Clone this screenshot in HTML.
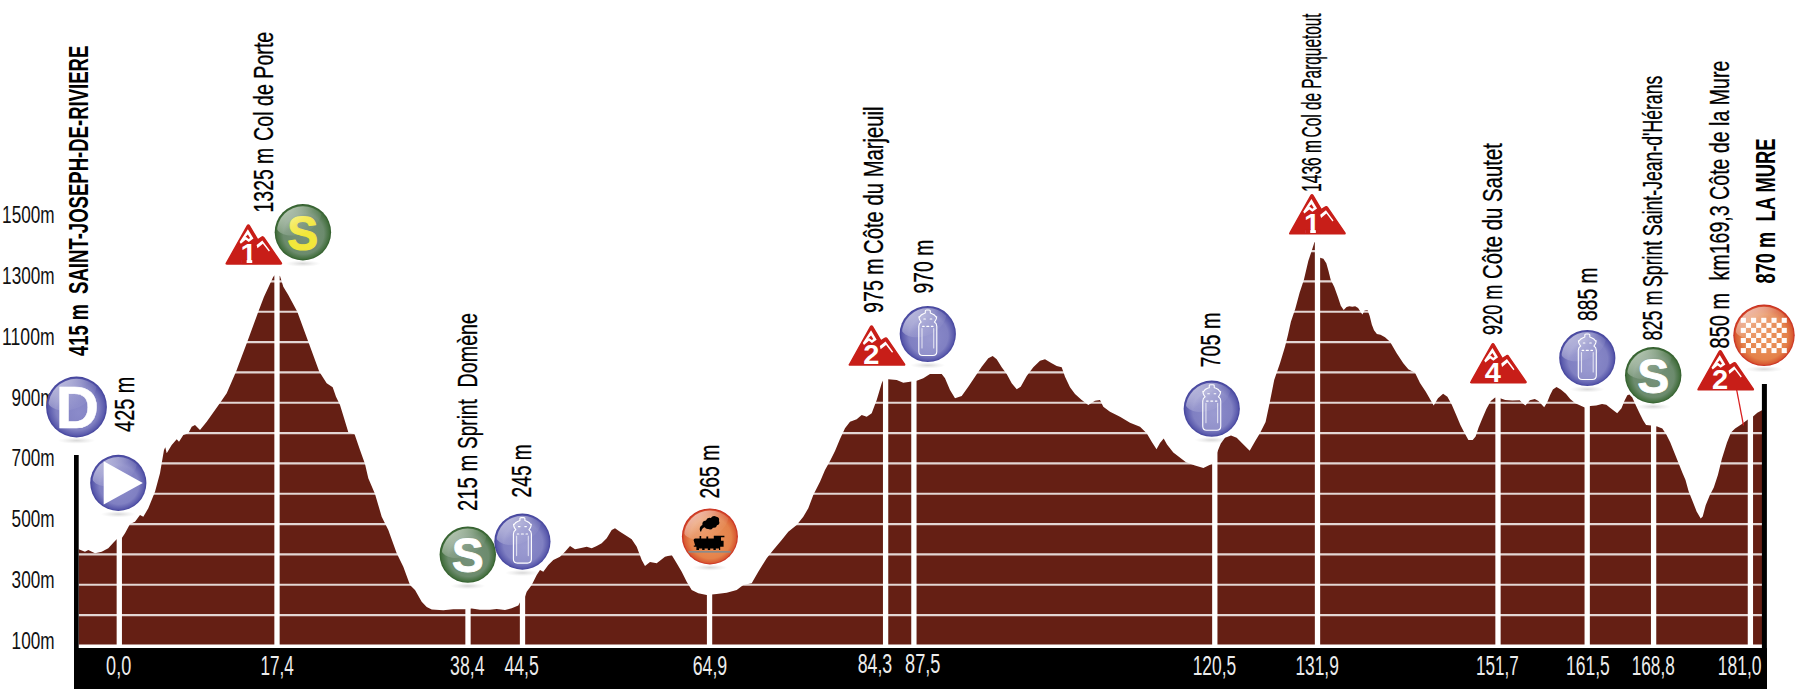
<!DOCTYPE html>
<html lang="fr"><head><meta charset="utf-8"><title>Profil - Saint-Joseph-de-Rivière / La Mure</title>
<style>html,body{margin:0;padding:0;background:#fff}svg{display:block}text{font-family:"Liberation Sans",Arial,sans-serif}</style>
</head><body>
<svg width="1800" height="692" viewBox="0 0 1800 692">
<defs>
<radialGradient id="gBlue" cx="0.5" cy="0.5" r="0.5" fx="0.54" fy="0.6"><stop offset="0" stop-color="#8B8BCA"/><stop offset="0.7" stop-color="#8080C2"/><stop offset="0.92" stop-color="#5A5AAC"/><stop offset="1" stop-color="#40409A"/></radialGradient>
<radialGradient id="gGreen" cx="0.5" cy="0.5" r="0.5" fx="0.54" fy="0.6"><stop offset="0" stop-color="#76917A"/><stop offset="0.72" stop-color="#6C8B6D"/><stop offset="0.93" stop-color="#457040"/><stop offset="1" stop-color="#2E5B28"/></radialGradient>
<radialGradient id="gOrange" cx="0.5" cy="0.5" r="0.5" fx="0.54" fy="0.6"><stop offset="0" stop-color="#EC945C"/><stop offset="0.74" stop-color="#E4824A"/><stop offset="0.93" stop-color="#D85A32"/><stop offset="1" stop-color="#C6241A"/></radialGradient>
<linearGradient id="gloss" x1="0" y1="0" x2="0.35" y2="1"><stop offset="0" stop-color="#fff" stop-opacity="0.8"/><stop offset="0.7" stop-color="#fff" stop-opacity="0.18"/><stop offset="1" stop-color="#fff" stop-opacity="0.05"/></linearGradient>
<radialGradient id="shadow" cx="0.5" cy="0.5" r="0.5"><stop offset="0" stop-color="#000" stop-opacity="0.15"/><stop offset="0.6" stop-color="#000" stop-opacity="0.05"/><stop offset="1" stop-color="#000" stop-opacity="0"/></radialGradient>
</defs>
<rect width="1800" height="692" fill="#fff"/>
<polygon fill="#651F14" points="78.7,549.3 85.0,551.7 88.3,550.0 95.0,553.3 101.7,551.7 108.3,548.3 113.3,542.7 116.7,539.3 121.7,538.3 125.0,533.3 130.0,524.0 135.0,521.7 140.0,515.0 143.3,516.7 148.3,508.3 155.0,491.7 160.0,473.3 161.7,463.3 164.0,450.0 165.3,447.3 166.7,453.3 171.7,445.0 176.7,439.3 179.0,441.7 183.3,435.0 188.3,433.3 191.7,426.7 195.0,425.0 200.0,430.0 206.7,421.7 219.3,404.0 226.7,393.3 236.0,371.7 247.3,341.7 258.3,311.7 264.0,296.7 273.3,276.7 275.0,275.0 280.0,276.0 283.3,286.7 288.3,295.0 297.3,311.7 308.3,341.7 319.3,371.7 326.7,383.3 332.7,387.3 336.0,396.7 340.0,405.0 344.0,418.0 348.4,432.4 354.6,434.2 360.0,450.0 365.0,464.0 368.3,478.3 375.0,494.0 381.7,516.7 388.3,530.0 396.7,553.3 403.3,566.7 410.0,585.0 415.0,590.0 421.7,601.7 426.7,607.0 431.7,609.5 443.3,610.2 453.3,609.3 465.0,609.2 471.7,608.4 480.0,609.7 490.0,609.7 496.7,609.0 505.0,610.0 511.7,608.2 518.3,605.6 520.7,601.0 525.0,596.7 526.7,591.7 531.7,585.0 536.7,575.0 540.0,570.0 543.3,571.7 548.3,565.0 553.3,560.0 560.0,556.7 565.0,551.7 570.0,546.0 575.0,549.3 580.0,548.3 586.7,546.7 591.7,548.3 596.7,546.0 601.7,543.3 606.7,538.3 611.7,530.0 615.0,528.3 620.0,531.7 626.7,536.0 631.7,539.3 636.7,546.7 641.7,560.0 645.0,566.0 650.0,562.0 656.7,563.3 665.0,556.7 671.7,555.0 676.7,563.3 681.7,571.7 686.7,581.7 691.7,590.0 698.3,593.3 706.7,595.0 716.7,594.0 726.7,592.7 736.7,590.0 743.3,585.0 751.7,583.3 758.3,571.7 766.7,558.3 773.3,550.0 781.7,540.0 788.3,531.7 796.7,525.0 803.3,516.7 808.3,508.3 813.3,495.0 820.0,481.7 825.0,470.0 830.0,461.0 835.0,451.0 840.0,439.0 845.0,428.3 850.0,421.7 856.7,419.3 861.7,415.0 866.7,416.7 871.7,413.3 876.7,400.0 881.7,383.3 883.3,380.0 888.3,379.3 896.7,380.0 903.3,382.7 910.0,381.7 916.7,380.7 923.3,378.3 930.0,374.0 941.7,374.0 945.0,378.3 950.0,390.0 955.0,398.3 961.7,396.0 968.3,386.7 975.0,376.7 981.7,366.7 988.3,358.3 992.7,356.0 996.7,359.3 1001.7,367.3 1006.7,374.0 1011.7,383.3 1016.7,389.3 1020.7,386.7 1026.7,376.0 1033.3,367.3 1040.0,360.7 1045.0,359.3 1051.7,363.3 1056.7,366.0 1061.7,367.3 1065.0,376.7 1070.0,387.3 1075.0,394.0 1081.7,400.0 1088.3,405.0 1095.0,400.7 1100.0,400.0 1103.3,406.7 1110.0,411.7 1120.0,416.7 1130.0,422.7 1140.0,426.7 1146.7,433.3 1151.7,441.7 1156.5,449.3 1160.0,443.0 1163.7,438.5 1167.0,444.5 1173.3,452.5 1186.0,462.3 1195.0,465.5 1203.4,468.1 1208.0,465.8 1212.0,463.8 1217.2,452.2 1220.8,443.6 1225.0,437.8 1231.0,435.6 1236.7,437.8 1243.9,445.0 1249.7,450.8 1255.4,440.7 1259.8,433.4 1265.6,421.9 1269.9,401.7 1274.2,380.0 1280.0,363.3 1285.0,346.7 1288.0,334.7 1290.9,321.7 1295.3,308.7 1299.6,292.8 1303.9,279.8 1308.3,261.0 1311.9,250.2 1314.5,241.9 1315.5,243.0 1320.1,257.8 1323.4,258.8 1326.3,263.2 1328.5,271.1 1330.7,279.8 1334.3,287.0 1337.9,297.1 1340.8,305.8 1343.7,310.1 1346.6,306.9 1349.4,306.2 1352.3,306.8 1355.2,306.2 1358.1,307.9 1360.3,311.6 1362.4,314.4 1364.6,310.4 1367.5,310.1 1369.7,315.9 1371.8,324.6 1374.0,330.3 1376.9,333.9 1380.5,334.7 1385.0,337.3 1390.0,341.7 1396.7,353.3 1403.3,363.3 1408.3,369.3 1415.0,372.7 1420.0,383.0 1425.8,391.7 1433.7,405.4 1438.0,398.2 1443.1,393.8 1447.4,396.7 1451.8,404.7 1456.1,414.8 1460.4,424.9 1464.8,433.6 1468.4,440.1 1472.7,440.1 1475.6,436.4 1478.5,427.8 1482.1,419.1 1486.4,409.0 1490.8,401.1 1495.1,397.4 1500.2,398.2 1505.2,400.0 1512.4,400.6 1519.7,400.3 1522.6,403.2 1525.4,405.4 1529.8,400.3 1534.8,398.9 1538.4,401.1 1544.2,407.3 1547.1,402.5 1550.0,395.3 1552.9,389.5 1556.5,387.0 1560.8,389.5 1565.9,393.8 1570.2,398.9 1575.3,403.2 1580.3,405.4 1584.7,407.6 1590.2,406.1 1596.2,405.4 1602.0,403.9 1606.3,404.7 1610.7,408.3 1617.2,413.3 1621.5,408.3 1624.4,401.1 1627.3,395.3 1629.4,394.6 1632.3,397.4 1635.9,405.4 1639.6,413.3 1643.2,420.6 1646.1,424.9 1651.1,425.6 1657.2,426.6 1662.3,428.4 1666.3,434.5 1670.3,442.6 1674.4,452.7 1678.4,462.8 1682.5,472.9 1685.5,480.0 1688.6,491.2 1692.6,501.3 1696.6,511.4 1700.7,518.5 1702.7,516.4 1705.7,505.3 1709.8,495.2 1713.8,487.5 1717.9,475.0 1721.9,458.8 1727.0,442.6 1731.0,432.5 1735.1,428.4 1741.2,424.4 1748.2,419.3 1753.3,416.3 1757.3,412.7 1762.0,410.2 1762,646.4 78.7,646.4"/>
<line x1="78" x2="1763" y1="615.1" y2="615.1" stroke="#fff" stroke-opacity="0.82" stroke-width="2.1"/>
<line x1="78" x2="1763" y1="584.7" y2="584.7" stroke="#fff" stroke-opacity="0.82" stroke-width="2.1"/>
<line x1="78" x2="1763" y1="554.4" y2="554.4" stroke="#fff" stroke-opacity="0.82" stroke-width="2.1"/>
<line x1="78" x2="1763" y1="524.1" y2="524.1" stroke="#fff" stroke-opacity="0.82" stroke-width="2.1"/>
<line x1="78" x2="1763" y1="493.8" y2="493.8" stroke="#fff" stroke-opacity="0.82" stroke-width="2.1"/>
<line x1="78" x2="1763" y1="463.4" y2="463.4" stroke="#fff" stroke-opacity="0.82" stroke-width="2.1"/>
<line x1="78" x2="1763" y1="433.1" y2="433.1" stroke="#fff" stroke-opacity="0.82" stroke-width="2.1"/>
<line x1="78" x2="1763" y1="402.8" y2="402.8" stroke="#fff" stroke-opacity="0.82" stroke-width="2.1"/>
<line x1="78" x2="1763" y1="372.4" y2="372.4" stroke="#fff" stroke-opacity="0.82" stroke-width="2.1"/>
<line x1="78" x2="1763" y1="342.1" y2="342.1" stroke="#fff" stroke-opacity="0.82" stroke-width="2.1"/>
<line x1="78" x2="1763" y1="311.8" y2="311.8" stroke="#fff" stroke-opacity="0.82" stroke-width="2.1"/>
<line x1="78" x2="1763" y1="281.4" y2="281.4" stroke="#fff" stroke-opacity="0.82" stroke-width="2.1"/>
<line x1="78" x2="1763" y1="251.1" y2="251.1" stroke="#fff" stroke-opacity="0.82" stroke-width="2.1"/>
<rect x="78" y="644.5" width="1686" height="3.6" fill="#fff"/>
<line x1="119.3" x2="119.3" y1="236" y2="648" stroke="#fff" stroke-width="5.3"/>
<line x1="277" x2="277" y1="236" y2="648" stroke="#fff" stroke-width="5.3"/>
<line x1="468" x2="468" y1="236" y2="648" stroke="#fff" stroke-width="5.3"/>
<line x1="522.5" x2="522.5" y1="236" y2="648" stroke="#fff" stroke-width="5.3"/>
<line x1="709.55" x2="709.55" y1="236" y2="648" stroke="#fff" stroke-width="5.3"/>
<line x1="885.6" x2="885.6" y1="236" y2="648" stroke="#fff" stroke-width="5.3"/>
<line x1="913.9" x2="913.9" y1="236" y2="648" stroke="#fff" stroke-width="5.3"/>
<line x1="1214.8" x2="1214.8" y1="236" y2="648" stroke="#fff" stroke-width="5.3"/>
<line x1="1317.5" x2="1317.5" y1="236" y2="648" stroke="#fff" stroke-width="5.3"/>
<line x1="1498" x2="1498" y1="236" y2="648" stroke="#fff" stroke-width="5.3"/>
<line x1="1587.2" x2="1587.2" y1="236" y2="648" stroke="#fff" stroke-width="5.3"/>
<line x1="1653.6" x2="1653.6" y1="236" y2="648" stroke="#fff" stroke-width="5.3"/>
<line x1="1750.4" x2="1750.4" y1="236" y2="648" stroke="#fff" stroke-width="5.3"/>
<rect x="74" y="455" width="4.7" height="194" fill="#000"/>
<rect x="1761.9" y="384" width="5" height="265" fill="#000"/>
<rect x="74" y="648" width="1693" height="41" fill="#000"/>
<text x="54.6" y="223.2" font-size="24.5" text-anchor="end" textLength="52.5" lengthAdjust="spacingAndGlyphs" fill="#111">1500m</text>
<text x="54.6" y="284.0" font-size="24.5" text-anchor="end" textLength="52.5" lengthAdjust="spacingAndGlyphs" fill="#111">1300m</text>
<text x="54.6" y="344.8" font-size="24.5" text-anchor="end" textLength="52.5" lengthAdjust="spacingAndGlyphs" fill="#111">1100m</text>
<text x="54.6" y="405.6" font-size="24.5" text-anchor="end" textLength="43" lengthAdjust="spacingAndGlyphs" fill="#111">900m</text>
<text x="54.6" y="466.4" font-size="24.5" text-anchor="end" textLength="43" lengthAdjust="spacingAndGlyphs" fill="#111">700m</text>
<text x="54.6" y="527.2" font-size="24.5" text-anchor="end" textLength="43" lengthAdjust="spacingAndGlyphs" fill="#111">500m</text>
<text x="54.6" y="588.0" font-size="24.5" text-anchor="end" textLength="43" lengthAdjust="spacingAndGlyphs" fill="#111">300m</text>
<text x="54.6" y="648.8" font-size="24.5" text-anchor="end" textLength="43" lengthAdjust="spacingAndGlyphs" fill="#111">100m</text>
<text x="106.1" y="675" font-size="27.3" textLength="25.1" lengthAdjust="spacingAndGlyphs" fill="#ececec">0,0</text>
<text x="260.4" y="675" font-size="27.3" textLength="33.4" lengthAdjust="spacingAndGlyphs" fill="#ececec">17,4</text>
<text x="450.1" y="675" font-size="27.3" textLength="34.4" lengthAdjust="spacingAndGlyphs" fill="#ececec">38,4</text>
<text x="504.4" y="675" font-size="27.3" textLength="34.4" lengthAdjust="spacingAndGlyphs" fill="#ececec">44,5</text>
<text x="692.7" y="675" font-size="27.3" textLength="34.5" lengthAdjust="spacingAndGlyphs" fill="#ececec">64,9</text>
<text x="857.7" y="672.7" font-size="27.3" textLength="34.5" lengthAdjust="spacingAndGlyphs" fill="#ececec">84,3</text>
<text x="905.1" y="672.7" font-size="27.3" textLength="35.4" lengthAdjust="spacingAndGlyphs" fill="#ececec">87,5</text>
<text x="1192.7" y="675" font-size="27.3" textLength="43.5" lengthAdjust="spacingAndGlyphs" fill="#ececec">120,5</text>
<text x="1295.4" y="675" font-size="27.3" textLength="43.4" lengthAdjust="spacingAndGlyphs" fill="#ececec">131,9</text>
<text x="1476.1" y="675" font-size="27.3" textLength="42.7" lengthAdjust="spacingAndGlyphs" fill="#ececec">151,7</text>
<text x="1566.1" y="675" font-size="27.3" textLength="43.7" lengthAdjust="spacingAndGlyphs" fill="#ececec">161,5</text>
<text x="1631.7" y="675" font-size="27.3" textLength="43.1" lengthAdjust="spacingAndGlyphs" fill="#ececec">168,8</text>
<text x="1717.7" y="675" font-size="27.3" textLength="43.8" lengthAdjust="spacingAndGlyphs" fill="#ececec">181,0</text>
<text transform="translate(88.2,355.9) rotate(-90)" font-size="28" font-weight="bold" textLength="51.8" lengthAdjust="spacingAndGlyphs" fill="#000">415 m</text>
<text transform="translate(88.2,293.9) rotate(-90)" font-size="28" font-weight="bold" textLength="248.2" lengthAdjust="spacingAndGlyphs" fill="#000">SAINT-JOSEPH-DE-RIVIERE</text>
<text transform="translate(134.4,431.9) rotate(-90)" font-size="28.5" stroke="#000" stroke-width="0.3" textLength="55.2" lengthAdjust="spacingAndGlyphs" fill="#000">425 m</text>
<text transform="translate(273.4,212.4) rotate(-90)" font-size="28.5" stroke="#000" stroke-width="0.3" textLength="64.6" lengthAdjust="spacingAndGlyphs" fill="#000">1325 m</text>
<text transform="translate(273.4,140.9) rotate(-90)" font-size="28.5" stroke="#000" stroke-width="0.3" textLength="109.2" lengthAdjust="spacingAndGlyphs" fill="#000">Col de Porte</text>
<text transform="translate(476.8,510.9) rotate(-90)" font-size="28.5" stroke="#000" stroke-width="0.3" textLength="56.2" lengthAdjust="spacingAndGlyphs" fill="#000">215 m</text>
<text transform="translate(476.8,448.9) rotate(-90)" font-size="28.5" stroke="#000" stroke-width="0.3" textLength="49.6" lengthAdjust="spacingAndGlyphs" fill="#000">Sprint</text>
<text transform="translate(476.8,387.4) rotate(-90)" font-size="28.5" stroke="#000" stroke-width="0.3" textLength="74.4" lengthAdjust="spacingAndGlyphs" fill="#000">Domène</text>
<text transform="translate(531.4,497.4) rotate(-90)" font-size="28.5" stroke="#000" stroke-width="0.3" textLength="53.2" lengthAdjust="spacingAndGlyphs" fill="#000">245 m</text>
<text transform="translate(719.3,498.4) rotate(-90)" font-size="28.5" stroke="#000" stroke-width="0.3" textLength="53.6" lengthAdjust="spacingAndGlyphs" fill="#000">265 m</text>
<text transform="translate(883.2,312.9) rotate(-90)" font-size="28.5" stroke="#000" stroke-width="0.3" textLength="54.6" lengthAdjust="spacingAndGlyphs" fill="#000">975 m</text>
<text transform="translate(883.2,253.9) rotate(-90)" font-size="28.5" stroke="#000" stroke-width="0.3" textLength="147.4" lengthAdjust="spacingAndGlyphs" fill="#000">Côte du Marjeuil</text>
<text transform="translate(932.6,293.4) rotate(-90)" font-size="28.5" stroke="#000" stroke-width="0.3" textLength="53.6" lengthAdjust="spacingAndGlyphs" fill="#000">970 m</text>
<text transform="translate(1220.0,367.4) rotate(-90)" font-size="28.5" stroke="#000" stroke-width="0.3" textLength="55.0" lengthAdjust="spacingAndGlyphs" fill="#000">705 m</text>
<text transform="translate(1321.2,191.9) rotate(-90)" font-size="28.5" stroke="#000" stroke-width="0.3" textLength="52.0" lengthAdjust="spacingAndGlyphs" fill="#000">1436 m</text>
<text transform="translate(1321.2,137.4) rotate(-90)" font-size="28.5" stroke="#000" stroke-width="0.3" textLength="124.0" lengthAdjust="spacingAndGlyphs" fill="#000">Col de Parquetout</text>
<text transform="translate(1501.5,334.9) rotate(-90)" font-size="28.5" stroke="#000" stroke-width="0.3" textLength="50.2" lengthAdjust="spacingAndGlyphs" fill="#000">920 m</text>
<text transform="translate(1501.5,278.9) rotate(-90)" font-size="28.5" stroke="#000" stroke-width="0.3" textLength="135.8" lengthAdjust="spacingAndGlyphs" fill="#000">Côte du Sautet</text>
<text transform="translate(1596.8,320.9) rotate(-90)" font-size="28.5" stroke="#000" stroke-width="0.3" textLength="53.4" lengthAdjust="spacingAndGlyphs" fill="#000">885 m</text>
<text transform="translate(1661.9,340.4) rotate(-90)" font-size="28.5" stroke="#000" stroke-width="0.3" textLength="50.0" lengthAdjust="spacingAndGlyphs" fill="#000">825 m</text>
<text transform="translate(1661.9,286.9) rotate(-90)" font-size="28.5" stroke="#000" stroke-width="0.3" textLength="211.2" lengthAdjust="spacingAndGlyphs" fill="#000">Sprint Saint-Jean-d'Hérans</text>
<text transform="translate(1729.4,348.4) rotate(-90)" font-size="28.5" stroke="#000" stroke-width="0.3" textLength="55.4" lengthAdjust="spacingAndGlyphs" fill="#000">850 m</text>
<text transform="translate(1729.4,280.4) rotate(-90)" font-size="28.5" stroke="#000" stroke-width="0.3" textLength="219.8" lengthAdjust="spacingAndGlyphs" fill="#000">km169,3 Côte de la Mure</text>
<text transform="translate(1775.4,283.4) rotate(-90)" font-size="28" font-weight="bold" textLength="51.4" lengthAdjust="spacingAndGlyphs" fill="#000">870 m</text>
<text transform="translate(1775.4,221.4) rotate(-90)" font-size="28" font-weight="bold" textLength="83.0" lengthAdjust="spacingAndGlyphs" fill="#000">LA MURE</text>
<ellipse cx="76.5" cy="440.6" rx="18.8" ry="3.2" fill="url(#shadow)"/>
<circle cx="76.5" cy="407.0" r="30.4" fill="url(#gBlue)"/>
<text transform="translate(77.3,428.2) scale(1,1)" font-size="60" font-weight="bold" text-anchor="middle" fill="#fff" stroke="#fff" stroke-width="0.5" stroke-linejoin="round">D</text>
<clipPath id="c1"><circle cx="76.5" cy="407.0" r="28.2"/></clipPath>
<g clip-path="url(#c1)"><ellipse cx="71.6" cy="391.8" rx="26.1" ry="17.0" transform="rotate(-24 71.6 391.8)" fill="url(#gloss)"/></g>
<ellipse cx="118.3" cy="514.2" rx="17.4" ry="3.2" fill="url(#shadow)"/>
<circle cx="118.3" cy="482.9" r="28.1" fill="url(#gBlue)"/>
<path d="M103.7,461.2 L142.8,482.9 L103.7,504.6 Z" fill="#fff"/>
<clipPath id="c2"><circle cx="118.3" cy="482.9" r="25.9"/></clipPath>
<g clip-path="url(#c2)"><ellipse cx="113.8" cy="468.8" rx="24.2" ry="15.7" transform="rotate(-24 113.8 468.8)" fill="url(#gloss)"/></g>
<g transform="translate(224.8,264.2) scale(1.020,1.000)">
<path d="M1.4,-0.8 L22.0,-38.4 Q23.1,-40.2 24.2,-38.4 L32.3,-24.4 L36.0,-26.9 Q37.2,-28.0 38.3,-26.6 L55.4,-1.2 Q56.0,-0.2 54.8,-0.2 L2,-0.2 Q0.9,-0.2 1.4,-0.8 Z" fill="#C81E18" stroke="#C81E18" stroke-width="1.4" stroke-linejoin="round"/>
<path d="M22.6,-35.0 L28.1,-25.6 L23.5,-22.2 L20.5,-24.5 L15.7,-20.4 L14.5,-22.3 Z" fill="#fff"/>
<path d="M22.6,-29.8 L24.8,-26.2 L23.4,-25.2 L20.6,-27.4 L19.2,-26.2 Z" fill="#C81E18"/>
<path d="M36.8,-23.8 L44.2,-13.6 L43.2,-12.6 L37.3,-20.4 L32.0,-16.0 L31.2,-19.3 Z" fill="#fff"/>
<text x="23.3" y="-0.9" font-size="28.5" font-weight="bold" text-anchor="middle" fill="#fff">1</text>
<rect x="16.5" y="-4.8" width="4.9" height="4.7" fill="#C81E18"/><rect x="26.9" y="-4.8" width="5" height="4.7" fill="#C81E18"/>
</g>
<ellipse cx="302.9" cy="263.6" rx="17.5" ry="3.2" fill="url(#shadow)"/>
<circle cx="302.9" cy="232.2" r="28.2" fill="url(#gGreen)"/>
<text transform="translate(302.7,249.89999999999998) scale(0.95,1)" font-size="48.8" font-weight="bold" text-anchor="middle" fill="#F2E73A" stroke="#F2E73A" stroke-width="1.0" stroke-linejoin="round">S</text>
<clipPath id="c3"><circle cx="302.9" cy="232.2" r="26.0"/></clipPath>
<g clip-path="url(#c3)"><ellipse cx="298.4" cy="218.1" rx="24.3" ry="15.8" transform="rotate(-24 298.4 218.1)" fill="url(#gloss)"/></g>
<ellipse cx="467.8" cy="586.0" rx="17.5" ry="3.2" fill="url(#shadow)"/>
<circle cx="467.8" cy="554.6" r="28.2" fill="url(#gGreen)"/>
<text transform="translate(467.8,572.0) scale(1,1)" font-size="48" font-weight="bold" text-anchor="middle" fill="#fff" stroke="#fff" stroke-width="0.8" stroke-linejoin="round">S</text>
<clipPath id="c4"><circle cx="467.8" cy="554.6" r="26.0"/></clipPath>
<g clip-path="url(#c4)"><ellipse cx="463.3" cy="540.5" rx="24.3" ry="15.8" transform="rotate(-24 463.3 540.5)" fill="url(#gloss)"/></g>
<ellipse cx="522.4" cy="572.9" rx="17.4" ry="3.2" fill="url(#shadow)"/>
<circle cx="522.4" cy="541.6" r="28.1" fill="url(#gBlue)"/>
<g transform="translate(522.4,517.6)" fill="#fff" fill-opacity="0.14" stroke="#fff" stroke-opacity="1" stroke-width="1.1" stroke-linejoin="round" stroke-linecap="round">
<path d="M-2.5,1.2 q0,-1.2 1.2,-1.2 h2.6 q1.2,0 1.2,1.2 v1.8 l1.2,0.4 q3.4,1.2 4.6,3.6 l0.6,-0.3 l-0.4,2.2 q-0.6,1.6 -1.9,3.2 q2.4,1.4 2.4,4.2 v25.2 q0,4 -4,4 h-10 q-4,0 -4,-4 v-25.2 q0,-2.8 2.4,-4.2 q-1.3,-1.6 -1.9,-3.2 l-0.4,-2.2 l0.6,0.3 q1.2,-2.4 4.6,-3.6 l1.2,-0.4 z"/>
<path d="M-4,9 h1.6 M2.4,9 h1.6 M-5.2,16.4 h1.6 M3.6,16.4 h1.6 M-1,16.4 h2" fill="none"/>
<path d="M-5.8,18.5 v19.5 M5.9,18.5 v19.5" fill="none" stroke-opacity="0.7"/>
</g>
<clipPath id="c5"><circle cx="522.4" cy="541.6" r="25.9"/></clipPath>
<g clip-path="url(#c5)"><ellipse cx="517.9" cy="527.6" rx="24.2" ry="15.7" transform="rotate(-24 517.9 527.6)" fill="url(#gloss)"/></g>
<ellipse cx="709.9" cy="567.6" rx="17.4" ry="3.2" fill="url(#shadow)"/>
<circle cx="709.9" cy="536.4" r="28.0" fill="url(#gOrange)"/>
<clipPath id="c6"><circle cx="709.9" cy="536.4" r="25.8"/></clipPath>
<g clip-path="url(#c6)"><ellipse cx="705.4" cy="522.4" rx="24.1" ry="15.7" transform="rotate(-24 705.4 522.4)" fill="url(#gloss)"/></g>
<g fill="#000">
<path d="M700.2,531.5 q-1.6,-4.6 2.2,-6.4 q-0.6,-4.2 3.6,-4.6 q1.2,-3.6 4.8,-2.6 q2.4,-3.2 5.6,-1.2 q3.4,0.6 2.6,4.2 q1.4,3.2 -2.0,4.4 q-0.6,3.0 -4.0,2.4 q-1.8,2.8 -4.8,1.4 q-2.6,0.2 -3.4,-1.8 q-3.0,0.8 -3.6,4.2 z"/>
<path d="M693.6,540.2 q0,-1.6 1.6,-1.6 h4.4 v-2.6 h1.6 v2.6 h5.2 v-2.2 h1.8 v2.2 h5.6 v-2.8 h10.6 v1.4 h-3.4 v3.6 h2.6 v6 h-3.4 v3.2 h-1.2 v-1.6 h-3.2 v1.6 h-2.4 v-1.6 h-3.2 v1.6 h-2.4 v-1.6 h-3.2 v1.6 h-2.4 v-1.6 h-3.2 v1.6 h-2.6 v-3.2 h-2.6 v-1.4 h1.4 z"/>
</g>
<rect x="688.5" y="551" width="42.2" height="1.7" fill="#8a8a8a"/>
<g transform="translate(848.0,365.3) scale(1.020,1.000)">
<path d="M1.4,-0.8 L22.0,-38.4 Q23.1,-40.2 24.2,-38.4 L32.3,-24.4 L36.0,-26.9 Q37.2,-28.0 38.3,-26.6 L55.4,-1.2 Q56.0,-0.2 54.8,-0.2 L2,-0.2 Q0.9,-0.2 1.4,-0.8 Z" fill="#C81E18" stroke="#C81E18" stroke-width="1.4" stroke-linejoin="round"/>
<path d="M22.6,-35.0 L28.1,-25.6 L23.5,-22.2 L20.5,-24.5 L15.7,-20.4 L14.5,-22.3 Z" fill="#fff"/>
<path d="M22.6,-29.8 L24.8,-26.2 L23.4,-25.2 L20.6,-27.4 L19.2,-26.2 Z" fill="#C81E18"/>
<path d="M36.8,-23.8 L44.2,-13.6 L43.2,-12.6 L37.3,-20.4 L32.0,-16.0 L31.2,-19.3 Z" fill="#fff"/>
<text x="22.9" y="-0.9" font-size="28.5" font-weight="bold" text-anchor="middle" fill="#fff">2</text>
</g>
<ellipse cx="927.8" cy="365.3" rx="17.4" ry="3.2" fill="url(#shadow)"/>
<circle cx="927.8" cy="334" r="28.1" fill="url(#gBlue)"/>
<g transform="translate(927.8,310)" fill="#fff" fill-opacity="0.14" stroke="#fff" stroke-opacity="1" stroke-width="1.1" stroke-linejoin="round" stroke-linecap="round">
<path d="M-2.5,1.2 q0,-1.2 1.2,-1.2 h2.6 q1.2,0 1.2,1.2 v1.8 l1.2,0.4 q3.4,1.2 4.6,3.6 l0.6,-0.3 l-0.4,2.2 q-0.6,1.6 -1.9,3.2 q2.4,1.4 2.4,4.2 v25.2 q0,4 -4,4 h-10 q-4,0 -4,-4 v-25.2 q0,-2.8 2.4,-4.2 q-1.3,-1.6 -1.9,-3.2 l-0.4,-2.2 l0.6,0.3 q1.2,-2.4 4.6,-3.6 l1.2,-0.4 z"/>
<path d="M-4,9 h1.6 M2.4,9 h1.6 M-5.2,16.4 h1.6 M3.6,16.4 h1.6 M-1,16.4 h2" fill="none"/>
<path d="M-5.8,18.5 v19.5 M5.9,18.5 v19.5" fill="none" stroke-opacity="0.7"/>
</g>
<clipPath id="c7"><circle cx="927.8" cy="334" r="25.9"/></clipPath>
<g clip-path="url(#c7)"><ellipse cx="923.3" cy="319.9" rx="24.2" ry="15.7" transform="rotate(-24 923.3 319.9)" fill="url(#gloss)"/></g>
<ellipse cx="1211.75" cy="440.0" rx="17.4" ry="3.2" fill="url(#shadow)"/>
<circle cx="1211.75" cy="408.7" r="28.1" fill="url(#gBlue)"/>
<g transform="translate(1211.75,384.7)" fill="#fff" fill-opacity="0.14" stroke="#fff" stroke-opacity="1" stroke-width="1.1" stroke-linejoin="round" stroke-linecap="round">
<path d="M-2.5,1.2 q0,-1.2 1.2,-1.2 h2.6 q1.2,0 1.2,1.2 v1.8 l1.2,0.4 q3.4,1.2 4.6,3.6 l0.6,-0.3 l-0.4,2.2 q-0.6,1.6 -1.9,3.2 q2.4,1.4 2.4,4.2 v25.2 q0,4 -4,4 h-10 q-4,0 -4,-4 v-25.2 q0,-2.8 2.4,-4.2 q-1.3,-1.6 -1.9,-3.2 l-0.4,-2.2 l0.6,0.3 q1.2,-2.4 4.6,-3.6 l1.2,-0.4 z"/>
<path d="M-4,9 h1.6 M2.4,9 h1.6 M-5.2,16.4 h1.6 M3.6,16.4 h1.6 M-1,16.4 h2" fill="none"/>
<path d="M-5.8,18.5 v19.5 M5.9,18.5 v19.5" fill="none" stroke-opacity="0.7"/>
</g>
<clipPath id="c8"><circle cx="1211.75" cy="408.7" r="25.9"/></clipPath>
<g clip-path="url(#c8)"><ellipse cx="1207.3" cy="394.6" rx="24.2" ry="15.7" transform="rotate(-24 1207.3 394.6)" fill="url(#gloss)"/></g>
<g transform="translate(1288.4,234) scale(1.020,1.000)">
<path d="M1.4,-0.8 L22.0,-38.4 Q23.1,-40.2 24.2,-38.4 L32.3,-24.4 L36.0,-26.9 Q37.2,-28.0 38.3,-26.6 L55.4,-1.2 Q56.0,-0.2 54.8,-0.2 L2,-0.2 Q0.9,-0.2 1.4,-0.8 Z" fill="#C81E18" stroke="#C81E18" stroke-width="1.4" stroke-linejoin="round"/>
<path d="M22.6,-35.0 L28.1,-25.6 L23.5,-22.2 L20.5,-24.5 L15.7,-20.4 L14.5,-22.3 Z" fill="#fff"/>
<path d="M22.6,-29.8 L24.8,-26.2 L23.4,-25.2 L20.6,-27.4 L19.2,-26.2 Z" fill="#C81E18"/>
<path d="M36.8,-23.8 L44.2,-13.6 L43.2,-12.6 L37.3,-20.4 L32.0,-16.0 L31.2,-19.3 Z" fill="#fff"/>
<text x="23.3" y="-0.9" font-size="28.5" font-weight="bold" text-anchor="middle" fill="#fff">1</text>
<rect x="16.5" y="-4.8" width="4.9" height="4.7" fill="#C81E18"/><rect x="26.9" y="-4.8" width="5" height="4.7" fill="#C81E18"/>
</g>
<g transform="translate(1469.4,382.9) scale(1.020,1.000)">
<path d="M1.4,-0.8 L22.0,-38.4 Q23.1,-40.2 24.2,-38.4 L32.3,-24.4 L36.0,-26.9 Q37.2,-28.0 38.3,-26.6 L55.4,-1.2 Q56.0,-0.2 54.8,-0.2 L2,-0.2 Q0.9,-0.2 1.4,-0.8 Z" fill="#C81E18" stroke="#C81E18" stroke-width="1.4" stroke-linejoin="round"/>
<path d="M22.6,-35.0 L28.1,-25.6 L23.5,-22.2 L20.5,-24.5 L15.7,-20.4 L14.5,-22.3 Z" fill="#fff"/>
<path d="M22.6,-29.8 L24.8,-26.2 L23.4,-25.2 L20.6,-27.4 L19.2,-26.2 Z" fill="#C81E18"/>
<path d="M36.8,-23.8 L44.2,-13.6 L43.2,-12.6 L37.3,-20.4 L32.0,-16.0 L31.2,-19.3 Z" fill="#fff"/>
<text x="22.9" y="-0.9" font-size="28.5" font-weight="bold" text-anchor="middle" fill="#fff">4</text>
</g>
<ellipse cx="1587.3" cy="389.3" rx="17.4" ry="3.2" fill="url(#shadow)"/>
<circle cx="1587.3" cy="358" r="28.1" fill="url(#gBlue)"/>
<g transform="translate(1587.3,334)" fill="#fff" fill-opacity="0.14" stroke="#fff" stroke-opacity="1" stroke-width="1.1" stroke-linejoin="round" stroke-linecap="round">
<path d="M-2.5,1.2 q0,-1.2 1.2,-1.2 h2.6 q1.2,0 1.2,1.2 v1.8 l1.2,0.4 q3.4,1.2 4.6,3.6 l0.6,-0.3 l-0.4,2.2 q-0.6,1.6 -1.9,3.2 q2.4,1.4 2.4,4.2 v25.2 q0,4 -4,4 h-10 q-4,0 -4,-4 v-25.2 q0,-2.8 2.4,-4.2 q-1.3,-1.6 -1.9,-3.2 l-0.4,-2.2 l0.6,0.3 q1.2,-2.4 4.6,-3.6 l1.2,-0.4 z"/>
<path d="M-4,9 h1.6 M2.4,9 h1.6 M-5.2,16.4 h1.6 M3.6,16.4 h1.6 M-1,16.4 h2" fill="none"/>
<path d="M-5.8,18.5 v19.5 M5.9,18.5 v19.5" fill="none" stroke-opacity="0.7"/>
</g>
<clipPath id="c9"><circle cx="1587.3" cy="358" r="25.9"/></clipPath>
<g clip-path="url(#c9)"><ellipse cx="1582.8" cy="343.9" rx="24.2" ry="15.7" transform="rotate(-24 1582.8 343.9)" fill="url(#gloss)"/></g>
<ellipse cx="1653.2" cy="406.7" rx="17.5" ry="3.2" fill="url(#shadow)"/>
<circle cx="1653.2" cy="375.3" r="28.2" fill="url(#gGreen)"/>
<text transform="translate(1653.2,392.7) scale(1,1)" font-size="48" font-weight="bold" text-anchor="middle" fill="#fff" stroke="#fff" stroke-width="0.8" stroke-linejoin="round">S</text>
<clipPath id="c10"><circle cx="1653.2" cy="375.3" r="26.0"/></clipPath>
<g clip-path="url(#c10)"><ellipse cx="1648.7" cy="361.2" rx="24.3" ry="15.8" transform="rotate(-24 1648.7 361.2)" fill="url(#gloss)"/></g>
<line x1="1736.7" y1="390" x2="1743.5" y2="425.4" stroke="#D81E1E" stroke-width="1.3"/>
<g transform="translate(1696.7,390) scale(1.020,1.000)">
<path d="M1.4,-0.8 L22.0,-38.4 Q23.1,-40.2 24.2,-38.4 L32.3,-24.4 L36.0,-26.9 Q37.2,-28.0 38.3,-26.6 L55.4,-1.2 Q56.0,-0.2 54.8,-0.2 L2,-0.2 Q0.9,-0.2 1.4,-0.8 Z" fill="#C81E18" stroke="#C81E18" stroke-width="1.4" stroke-linejoin="round"/>
<path d="M22.6,-35.0 L28.1,-25.6 L23.5,-22.2 L20.5,-24.5 L15.7,-20.4 L14.5,-22.3 Z" fill="#fff"/>
<path d="M22.6,-29.8 L24.8,-26.2 L23.4,-25.2 L20.6,-27.4 L19.2,-26.2 Z" fill="#C81E18"/>
<path d="M36.8,-23.8 L44.2,-13.6 L43.2,-12.6 L37.3,-20.4 L32.0,-16.0 L31.2,-19.3 Z" fill="#fff"/>
<text x="22.9" y="-0.9" font-size="28.5" font-weight="bold" text-anchor="middle" fill="#fff">2</text>
</g>
<ellipse cx="1764" cy="369.2" rx="19.0" ry="3.2" fill="url(#shadow)"/>
<circle cx="1764" cy="335.3" r="30.7" fill="url(#gOrange)"/>
<g fill="#fff" fill-opacity="0.97">
<rect x="1740.80" y="317.80" width="5.11" height="5.04"/>
<rect x="1751.02" y="317.80" width="5.11" height="5.04"/>
<rect x="1761.24" y="317.80" width="5.11" height="5.04"/>
<rect x="1771.47" y="317.80" width="5.11" height="5.04"/>
<rect x="1781.69" y="317.80" width="5.11" height="5.04"/>
<rect x="1745.91" y="322.84" width="5.11" height="5.04"/>
<rect x="1756.13" y="322.84" width="5.11" height="5.04"/>
<rect x="1766.36" y="322.84" width="5.11" height="5.04"/>
<rect x="1776.58" y="322.84" width="5.11" height="5.04"/>
<rect x="1740.80" y="327.89" width="5.11" height="5.04"/>
<rect x="1751.02" y="327.89" width="5.11" height="5.04"/>
<rect x="1761.24" y="327.89" width="5.11" height="5.04"/>
<rect x="1771.47" y="327.89" width="5.11" height="5.04"/>
<rect x="1781.69" y="327.89" width="5.11" height="5.04"/>
<rect x="1745.91" y="332.93" width="5.11" height="5.04"/>
<rect x="1756.13" y="332.93" width="5.11" height="5.04"/>
<rect x="1766.36" y="332.93" width="5.11" height="5.04"/>
<rect x="1776.58" y="332.93" width="5.11" height="5.04"/>
<rect x="1740.80" y="337.97" width="5.11" height="5.04"/>
<rect x="1751.02" y="337.97" width="5.11" height="5.04"/>
<rect x="1761.24" y="337.97" width="5.11" height="5.04"/>
<rect x="1771.47" y="337.97" width="5.11" height="5.04"/>
<rect x="1781.69" y="337.97" width="5.11" height="5.04"/>
<rect x="1745.91" y="343.01" width="5.11" height="5.04"/>
<rect x="1756.13" y="343.01" width="5.11" height="5.04"/>
<rect x="1766.36" y="343.01" width="5.11" height="5.04"/>
<rect x="1776.58" y="343.01" width="5.11" height="5.04"/>
<rect x="1740.80" y="348.06" width="5.11" height="5.04"/>
<rect x="1751.02" y="348.06" width="5.11" height="5.04"/>
<rect x="1761.24" y="348.06" width="5.11" height="5.04"/>
<rect x="1771.47" y="348.06" width="5.11" height="5.04"/>
<rect x="1781.69" y="348.06" width="5.11" height="5.04"/>
</g>
<clipPath id="c11"><circle cx="1764" cy="335.3" r="28.5"/></clipPath>
<g clip-path="url(#c11)"><ellipse cx="1759.1" cy="319.9" rx="26.4" ry="17.2" transform="rotate(-24 1759.1 319.9)" fill="url(#gloss)"/></g>
</svg></body></html>
